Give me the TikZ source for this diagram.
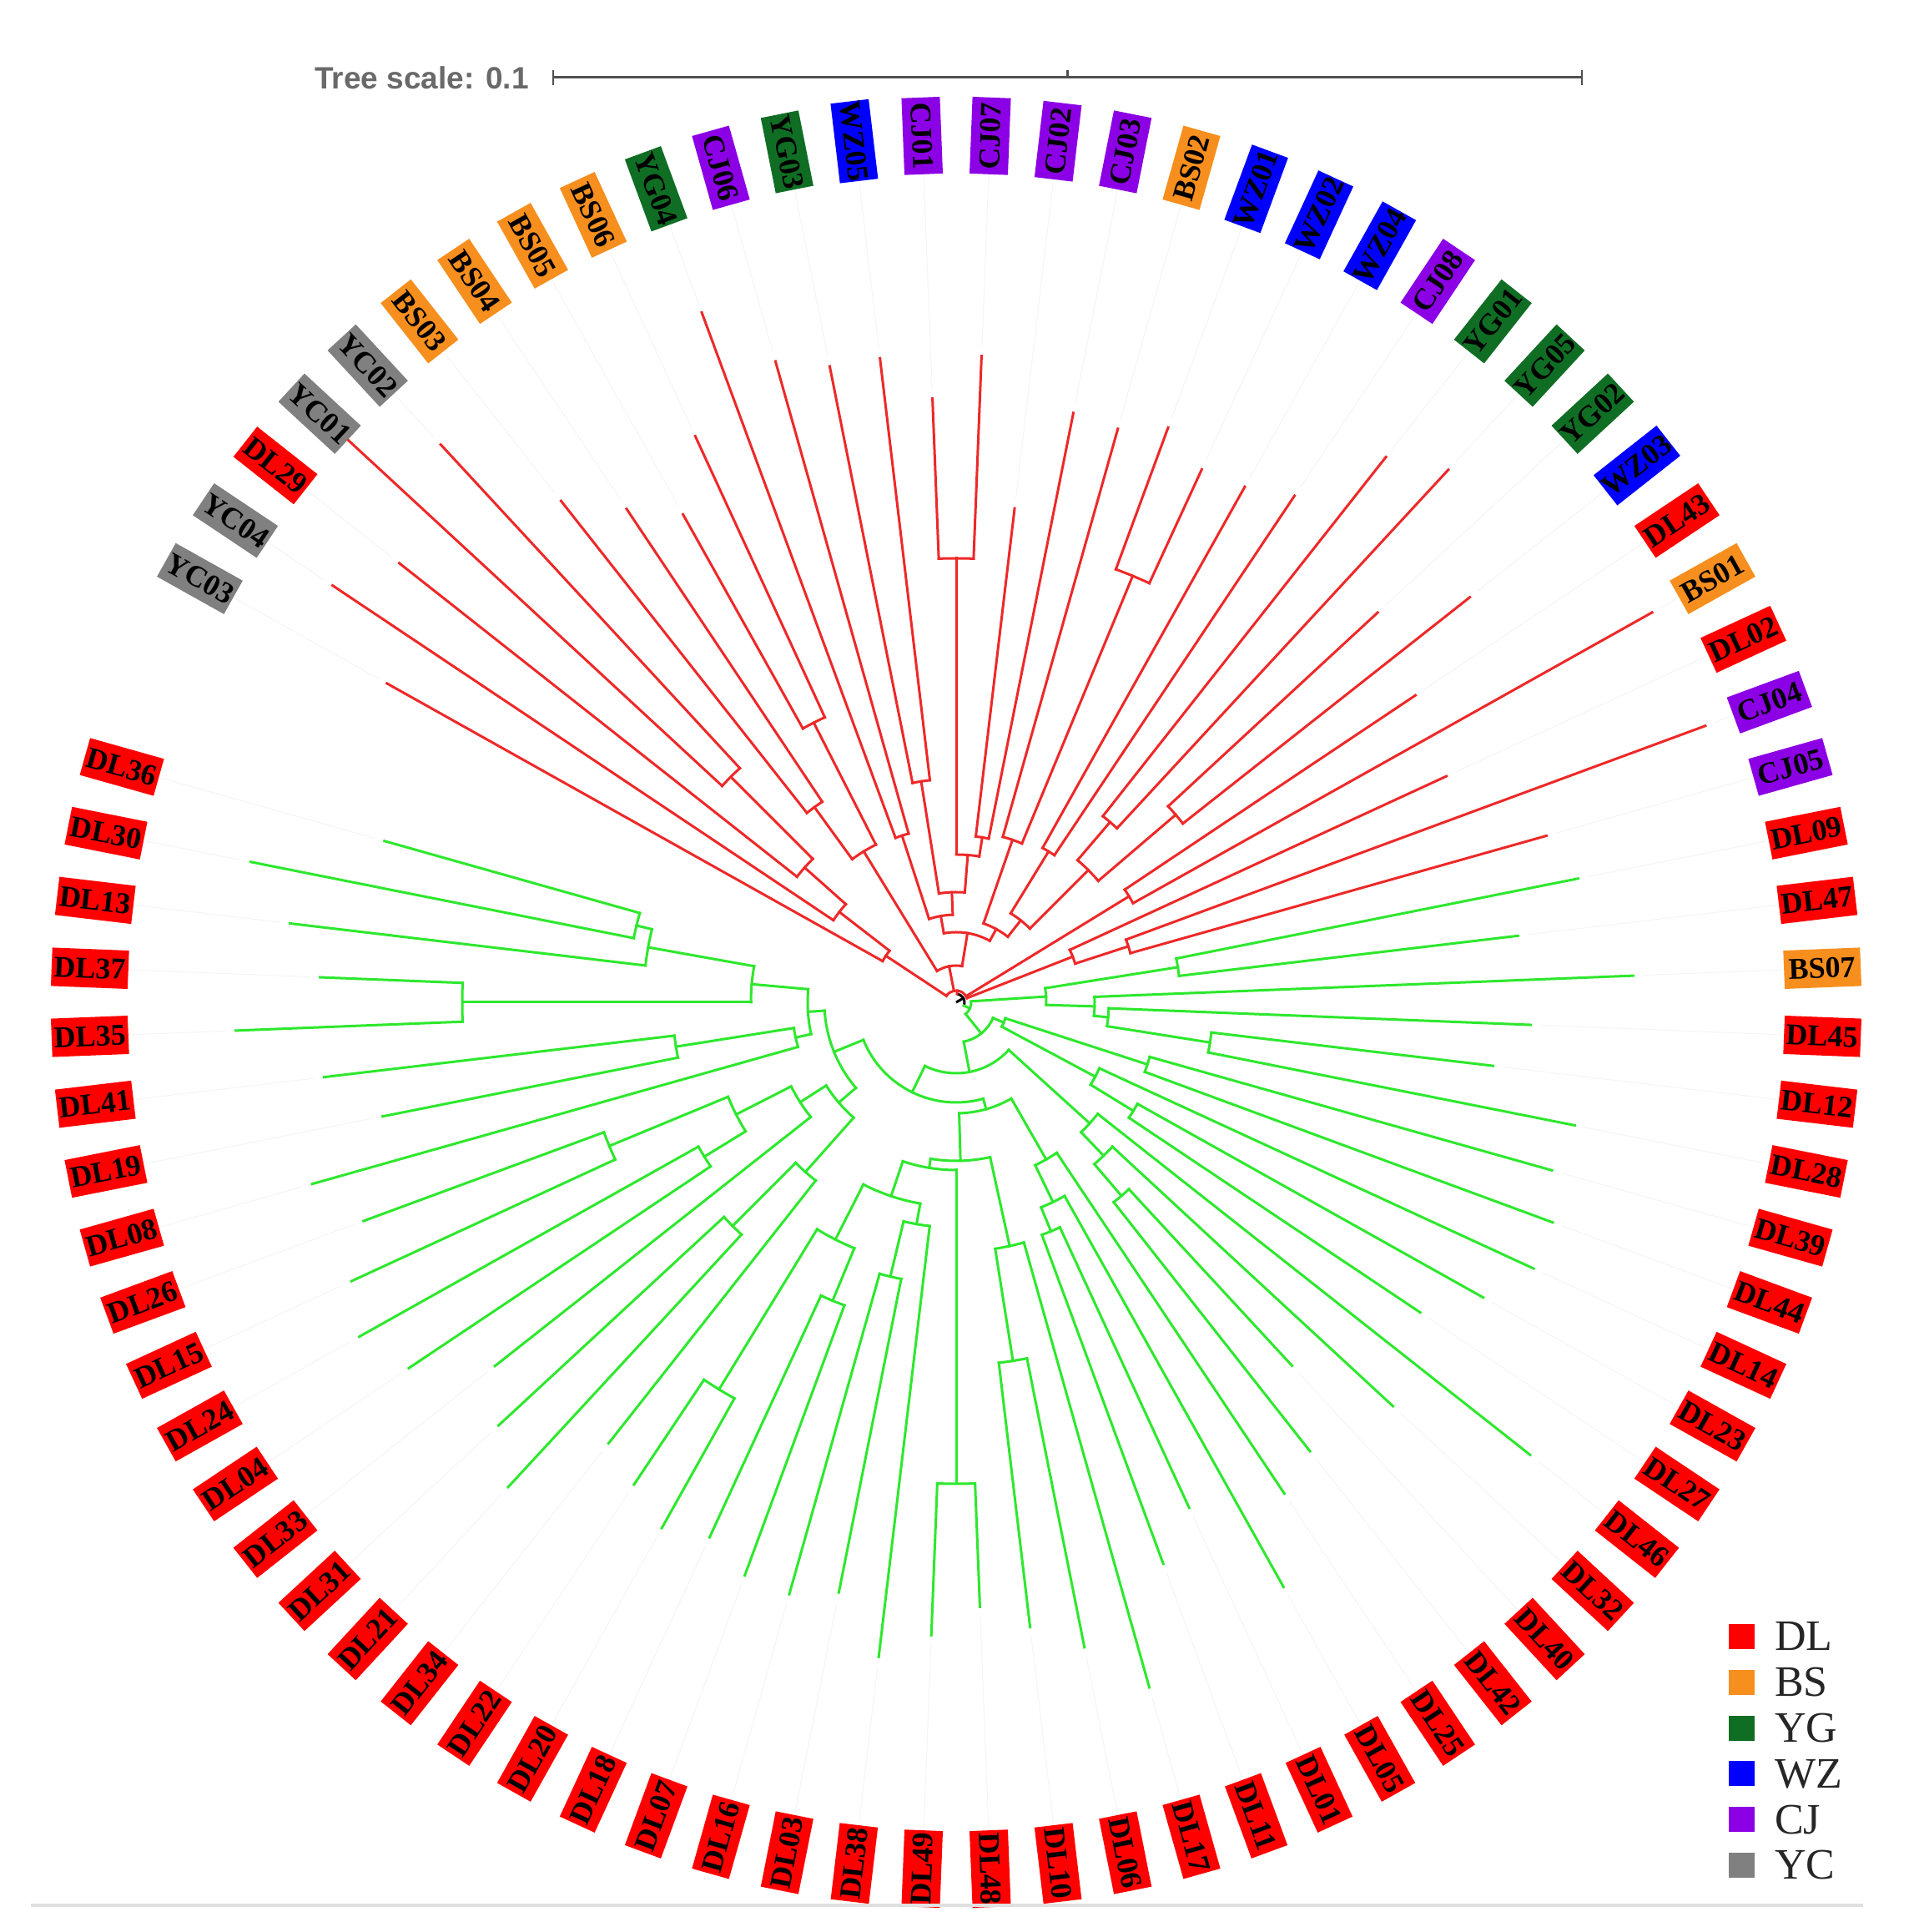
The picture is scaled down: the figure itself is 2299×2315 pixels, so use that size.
\documentclass[tikz,border=0pt]{standalone}
\usepackage{fontspec}
\setmainfont{Liberation Serif}
\newfontfamily\scalesans{Liberation Sans}
\newcommand\labfont{\bfseries\fontsize{36}{40}\selectfont}
\newcommand\tbr[3]{\draw (#1:#2) -- (#1:#3);}
\newcommand\tarc[3]{\draw (#2:#1) arc[start angle=#2, end angle=#3, radius=#1];}
\definecolor{cDL}{RGB}{255,0,0}
\definecolor{cBS}{RGB}{247,143,30}
\definecolor{cYG}{RGB}{16,110,36}
\definecolor{cWZ}{RGB}{0,0,255}
\definecolor{cCJ}{RGB}{140,0,230}
\definecolor{cYC}{RGB}{128,128,128}
\definecolor{tred}{RGB}{238,40,40}
\definecolor{tgreen}{RGB}{45,232,45}
\definecolor{scalegray}{RGB}{80,80,80}
\definecolor{textgray}{RGB}{105,105,105}
\begin{document}
\begin{tikzpicture}[x=1pt,y=1pt,
  tree/.style={line width=3pt,line cap=rect},
  lab/.style={rectangle,inner sep=0pt,minimum width=92pt,minimum height=46pt,text=black,font=\labfont},
  helper/.style={line width=1pt,color=black!4}]
\useasboundingbox (0,0) rectangle (2299,2315);
\fill[white] (0,0) rectangle (2299,2315);
\begin{scope}[shift={(1146,1114)}]
% labels and helper lines
\foreach \nm/\cl/\rt [count=\i from 0] in {
 YC03/cYC/782, YC04/cYC/899, DL29/cDL/850, YC01/cYC/992, YC02/cYC/910,
 BS03/cBS/765, BS04/cBS/711, BS05/cBS/670, BS06/cBS/747, YG04/cYG/881,
 CJ06/cCJ/798, YG03/cYG/777, WZ05/cWZ/777, CJ01/cCJ/724, CJ07/cCJ/775,
 CJ02/cCJ/596, CJ03/cCJ/720, BS02/cBS/714, WZ01/cWZ/734, WZ02/cWZ/703,
 WZ04/cWZ/708, CJ08/cCJ/730, YG01/cYG/832, YG05/cYG/869, YG02/cYG/688,
 WZ03/cWZ/784, DL43/cDL/662, BS01/cBS/956, DL02/cDL/647, CJ04/cCJ/957,
 CJ05/cCJ/735, DL09/cDL/760, DL47/cDL/678, BS07/cBS/812, DL45/cDL/689,
 DL12/cDL/648, DL28/cDL/756, DL39/cDL/742, DL44/cDL/762, DL14/cDL/762,
 DL23/cDL/724, DL27/cDL/669, DL46/cDL/876, DL32/cDL/713, DL40/cDL/593,
 DL42/cDL/685, DL25/cDL/708, DL05/cDL/803, DL01/cDL/667, DL11/cDL/717,
 DL17/cDL/853, DL06/cDL/788, DL10/cDL/754, DL48/cDL/725, DL49/cDL/759,
 DL38/cDL/790, DL03/cDL/721, DL16/cDL/737, DL07/cDL/732, DL18/cDL/706,
 DL20/cDL/722, DL22/cDL/695, DL34/cDL/673, DL21/cDL/791, DL31/cDL/747,
 DL33/cDL/704, DL04/cDL/789, DL24/cDL/820, DL15/cDL/798, DL26/cDL/757,
 DL08/cDL/802, DL19/cDL/701, DL41/cDL/763, DL35/cDL/864, DL37/cDL/763,
 DL13/cDL/804, DL30/cDL/862, DL36/cDL/712}
{
  \pgfmathsetmacro\ang{150.75-4.5*\i}
  \pgfmathsetmacro\rot{\ang>90 ? \ang-180 : (\ang<-90 ? \ang+180 : \ang)}
  \draw[helper] (\ang:\rt+12) -- (\ang:990);
  \node[lab,fill=\cl,rotate=\rot] (L\i) at (\ang:1039) {\nm};
}
% root
\draw[line width=3pt,black] (0,0) -- (30.1:10);
\draw[line width=3pt,black] (-23.73:10) arc[start angle=-23.73,end angle=83.95,radius=10];
% red clade
\begin{scope}[tree,color=tred]
\tbr{83.95}{10}{14}
\tarc{14}{146.53}{21.375}
\tbr{146.53}{14}{101}
\tbr{101.1}{14}{44}
\tbr{31.5}{14}{243}
\tbr{21.375}{14}{150}
\tarc{101}{150.75}{142.31}
\tbr{150.75}{101}{782}
\tbr{142.31}{101}{177}
\tarc{177}{146.25}{138.375}
\tbr{146.25}{177}{899}
\tbr{138.375}{177}{243}
\tarc{243}{141.75}{135}
\tbr{141.75}{243}{850}
\tbr{135}{243}{382}
\tarc{382}{137.25}{132.75}
\tbr{137.25}{382}{992}
\tbr{132.75}{382}{910}
\tarc{44}{121.5}{80.72}
\tbr{121.5}{44}{212}
\tbr{80.72}{44}{84}
\tarc{212}{126}{117}
\tbr{126}{212}{289}
\tbr{117}{212}{376}
\tarc{289}{128.25}{123.75}
\tbr{128.25}{289}{765}
\tbr{123.75}{289}{711}
\tarc{376}{119.25}{114.75}
\tbr{119.25}{376}{670}
\tbr{114.75}{376}{747}
\tarc{84}{100.125}{61.31}
\tbr{100.125}{84}{105}
\tbr{61.31}{84}{100}
\tarc{105}{108}{92.25}
\tbr{108}{105}{210}
\tbr{92.25}{105}{132}
\tarc{210}{110.25}{105.75}
\tbr{110.25}{210}{881}
\tbr{105.75}{210}{798}
\tarc{132}{99}{85.5}
\tbr{99}{132}{268}
\tbr{85.5}{132}{177}
\tarc{268}{101.25}{96.75}
\tbr{101.25}{268}{777}
\tbr{96.75}{268}{777}
\tarc{177}{90}{81}
\tbr{90}{177}{532}
\tbr{81}{177}{200}
\tarc{532}{92.25}{87.75}
\tbr{92.25}{532}{724}
\tbr{87.75}{532}{775}
\tarc{200}{83.25}{78.75}
\tbr{83.25}{200}{596}
\tbr{78.75}{200}{720}
\tarc{100}{70.875}{51.75}
\tbr{70.875}{100}{206}
\tbr{51.75}{100}{125}
\tarc{206}{74.25}{67.5}
\tbr{74.25}{206}{714}
\tbr{67.5}{206}{553}
\tarc{553}{69.75}{65.25}
\tbr{69.75}{553}{734}
\tbr{65.25}{553}{703}
\tarc{125}{58.5}{45}
\tbr{58.5}{125}{212}
\tbr{45}{125}{224}
\tarc{212}{60.75}{56.25}
\tbr{60.75}{212}{708}
\tbr{56.25}{212}{730}
\tarc{224}{49.5}{40.5}
\tbr{49.5}{224}{284}
\tbr{40.5}{224}{346}
\tarc{284}{51.75}{47.25}
\tbr{51.75}{284}{832}
\tbr{47.25}{284}{869}
\tarc{346}{42.75}{38.25}
\tbr{42.75}{346}{688}
\tbr{38.25}{346}{784}
\tarc{243}{33.75}{29.25}
\tbr{33.75}{243}{662}
\tbr{29.25}{243}{956}
\tarc{150}{24.75}{18}
\tbr{24.75}{150}{647}
\tbr{18}{150}{217}
\tarc{217}{20.25}{15.75}
\tbr{20.25}{217}{957}
\tbr{15.75}{217}{735}
\end{scope}
% green clade
\begin{scope}[tree,color=tgreen]
\tbr{-23.73}{10}{18}
\tarc{18}{3.656}{-51.11}
\tbr{3.656}{18}{108}
\tbr{-51.11}{18}{48}
\tarc{108}{9}{-1.6875}
\tbr{9}{108}{269}
\tbr{-1.6875}{108}{166}
\tarc{269}{11.25}{6.75}
\tbr{11.25}{269}{760}
\tbr{6.75}{269}{678}
\tarc{166}{2.25}{-5.625}
\tbr{2.25}{166}{812}
\tbr{-5.625}{166}{183}
\tarc{183}{-2.25}{-9}
\tbr{-2.25}{183}{689}
\tbr{-9}{183}{308}
\tarc{308}{-6.75}{-11.25}
\tbr{-6.75}{308}{648}
\tbr{-11.25}{308}{756}
\tarc{48}{-23.06}{-79.16}
\tbr{-23.06}{48}{62}
\tbr{-79.16}{48}{85}
\tarc{62}{-18}{-28.125}
\tbr{-18}{62}{241}
\tbr{-28.125}{62}{189}
\tarc{241}{-15.75}{-20.25}
\tbr{-15.75}{241}{742}
\tbr{-20.25}{241}{762}
\tarc{189}{-24.75}{-31.5}
\tbr{-24.75}{189}{762}
\tbr{-31.5}{189}{249}
\tarc{249}{-29.25}{-33.75}
\tbr{-29.25}{249}{724}
\tbr{-33.75}{249}{669}
\tarc{85}{-42.19}{-116.12}
\tbr{-42.19}{85}{216}
\tbr{-116.12}{85}{120}
\tarc{216}{-38.25}{-46.125}
\tbr{-38.25}{216}{876}
\tbr{-46.125}{216}{255}
\tarc{255}{-42.75}{-49.5}
\tbr{-42.75}{255}{713}
\tbr{-49.5}{255}{305}
\tarc{305}{-47.25}{-51.75}
\tbr{-47.25}{305}{593}
\tbr{-51.75}{305}{685}
\tarc{120}{-74.32}{-157.92}
\tbr{-74.32}{120}{133}
\tbr{-157.92}{120}{158}
\tarc{133}{-60.19}{-88.45}
\tbr{-60.19}{133}{217}
\tbr{-88.45}{133}{190}
\tarc{217}{-56.25}{-64.125}
\tbr{-56.25}{217}{708}
\tbr{-64.125}{217}{266}
\tarc{266}{-60.75}{-67.5}
\tbr{-60.75}{266}{803}
\tbr{-67.5}{266}{297}
\tarc{297}{-65.25}{-69.75}
\tbr{-65.25}{297}{667}
\tbr{-69.75}{297}{717}
\tarc{190}{-77.625}{-99.28}
\tbr{-77.625}{190}{299}
\tbr{-99.28}{190}{201}
\tarc{299}{-74.25}{-81}
\tbr{-74.25}{299}{853}
\tbr{-81}{299}{435}
\tarc{435}{-78.75}{-83.25}
\tbr{-78.75}{435}{788}
\tbr{-83.25}{435}{754}
\tarc{201}{-90}{-108.56}
\tbr{-90}{201}{577}
\tbr{-108.56}{201}{245}
\tarc{577}{-87.75}{-92.25}
\tbr{-87.75}{577}{725}
\tbr{-92.25}{577}{759}
\tarc{245}{-100.125}{-117}
\tbr{-100.125}{245}{270}
\tbr{-117}{245}{319}
\tarc{270}{-96.75}{-103.5}
\tbr{-96.75}{270}{790}
\tbr{-103.5}{270}{338}
\tarc{338}{-101.25}{-105.75}
\tbr{-101.25}{338}{721}
\tbr{-105.75}{338}{737}
\tarc{319}{-112.5}{-121.5}
\tbr{-112.5}{319}{387}
\tbr{-121.5}{319}{544}
\tarc{387}{-110.25}{-114.75}
\tbr{-110.25}{387}{732}
\tbr{-114.75}{387}{706}
\tarc{544}{-119.25}{-123.75}
\tbr{-119.25}{544}{722}
\tbr{-123.75}{544}{695}
\tarc{158}{-139.5}{-176.34}
\tbr{-139.5}{158}{185}
\tbr{-176.34}{158}{178}
\tarc{185}{-131.625}{-147.375}
\tbr{-131.625}{185}{272}
\tbr{-147.375}{185}{222}
\tarc{272}{-128.25}{-135}
\tbr{-128.25}{272}{673}
\tbr{-135}{272}{379}
\tarc{379}{-132.75}{-137.25}
\tbr{-132.75}{379}{791}
\tbr{-137.25}{379}{747}
\tarc{222}{-141.75}{-153}
\tbr{-141.75}{222}{704}
\tbr{-153}{222}{296}
\tarc{296}{-148.5}{-157.5}
\tbr{-148.5}{296}{354}
\tbr{-157.5}{296}{450}
\tarc{354}{-146.25}{-150.75}
\tbr{-146.25}{354}{789}
\tbr{-150.75}{354}{820}
\tarc{450}{-155.25}{-159.75}
\tbr{-155.25}{450}{798}
\tbr{-159.75}{450}{757}
\tarc{178}{-167.625}{-185.06}
\tbr{-167.625}{178}{197}
\tbr{-185.06}{178}{246}
\tarc{197}{-164.25}{-171}
\tbr{-164.25}{197}{802}
\tbr{-171}{197}{340}
\tarc{340}{-168.75}{-173.25}
\tbr{-168.75}{340}{701}
\tbr{-173.25}{340}{763}
\tarc{246}{-180}{-190.125}
\tbr{-180}{246}{592}
\tbr{-190.125}{246}{375}
\tarc{592}{-177.75}{-182.25}
\tbr{-177.75}{592}{864}
\tbr{-182.25}{592}{763}
\tarc{375}{-186.75}{-193.5}
\tbr{-186.75}{375}{804}
\tbr{-193.5}{375}{394}
\tarc{394}{-191.25}{-195.75}
\tbr{-191.25}{394}{862}
\tbr{-195.75}{394}{712}
\end{scope}
\end{scope}
% tree scale
\coordinate (sb0) at (663,2222);
\coordinate (sb1) at (1896,2222);
\coordinate (sbm) at (1279.5,2222);
\draw[line width=3pt,color=scalegray] (sb0) -- (sb1);
\draw[line width=2.5pt,color=scalegray] ([yshift=-9pt]sb0) -- ([yshift=9pt]sb0);
\draw[line width=2.5pt,color=scalegray] ([yshift=-9pt]sb1) -- ([yshift=9pt]sb1);
\draw[line width=2.5pt,color=scalegray] (sbm) -- ([yshift=9pt]sbm);
\node[anchor=east,inner sep=0pt,text=textgray,font=\scalesans\bfseries\fontsize{37}{40}\selectfont] (ts) at (634,2222) {Tree scale: 0.1};
% legend
\foreach \nm/\cl [count=\k from 0] in {DL/cDL,BS/cBS,YG/cYG,WZ/cWZ,CJ/cCJ,YC/cYC}
{
  \pgfmathsetmacro\yy{354-54.8*\k}
  \node[fill=\cl,minimum width=31pt,minimum height=30pt,inner sep=0pt] (Q\nm) at (2087.5,\yy) {};
  \node[anchor=base west,inner sep=0pt,text=black!85,font=\fontsize{52}{58}\selectfont] (T\nm) at (2127,\yy-17) {\nm};
}
% bottom rule
\draw[line width=4pt,color=black!12] (37,32) -- (2233,32);
\end{tikzpicture}
\end{document}
